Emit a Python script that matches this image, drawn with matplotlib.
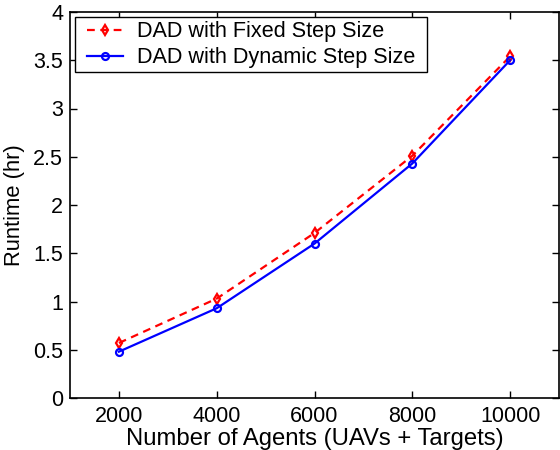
import matplotlib
matplotlib.use("Agg")
import matplotlib.pyplot as plt
from matplotlib.path import Path

plt.rcParams['font.family'] = ['Liberation Sans', 'DejaVu Sans']

agents = [2000, 4000, 6000, 8000, 10000]
fixed_step = [0.57, 1.03, 1.71, 2.51, 3.54]
dynamic_step = [0.48, 0.93, 1.60, 2.43, 3.50]
x_ticks = [2000, 4000, 6000, 8000, 10000]
y_ticks = [0, 0.5, 1, 1.5, 2, 2.5, 3, 3.5, 4]
y_ticklabels = ['0', '0.5', '1', '1.5', '2', '2.5', '3', '3.5', '4']

fig = plt.figure(figsize=(5.6, 4.5), dpi=100)
ax = fig.add_axes([70 / 560, 52 / 450, 489 / 560, 386 / 450])

ax.plot(agents, fixed_step, color='red', linestyle='--', linewidth=1.6,
        marker='d', markersize=5.5, markerfacecolor='none', markeredgewidth=1.6,
        dashes=(3.5, 2.5), label='DAD with Fixed Step Size')
ax.plot(agents, dynamic_step, color='blue', linestyle='-', linewidth=1.6,
        marker='o', markersize=5, markerfacecolor='none', markeredgewidth=1.6,
        label='DAD with Dynamic Step Size')

ax.set_xlim(1000, 11000)
ax.set_ylim(0, 4)
ax.set_xticks(x_ticks)
ax.set_xticklabels([str(v) for v in x_ticks])
ax.set_yticks(y_ticks)
ax.set_yticklabels(y_ticklabels)
ax.tick_params(direction='in', top=True, right=True, length=5, width=1,
               labelsize=15.5)
ax.tick_params(axis='x', pad=6)
ax.tick_params(axis='y', pad=5)
for s in ax.spines.values():
    s.set_linewidth(1.2)

ax.set_xlabel('Number of Agents (UAVs + Targets)', fontsize=17.2, labelpad=0.5)
ax.set_ylabel('Runtime (hr)', fontsize=15.8, labelpad=6)


def wide_box(x0, y0, width, height, mutation_size):
    """Square legend frame with extra horizontal padding only."""
    hp = 0.35 * mutation_size
    x0 -= hp
    x1 = x0 + width + 2 * hp
    y1 = y0 + height
    return Path([(x0, y0), (x1, y0), (x1, y1), (x0, y1), (x0, y0)], closed=True)


leg = ax.legend(loc='upper left', bbox_to_anchor=(12.6 / 489, 381 / 386),
                fontsize=15.6, frameon=True, fancybox=False,
                edgecolor='black', framealpha=1, borderaxespad=0,
                handlelength=1.65, borderpad=0.2, labelspacing=0.22,
                handletextpad=0.64)
leg.get_frame().set_boxstyle(wide_box)
leg.get_frame().set_linewidth(1.0)

fig.savefig('out.png', dpi=100)
